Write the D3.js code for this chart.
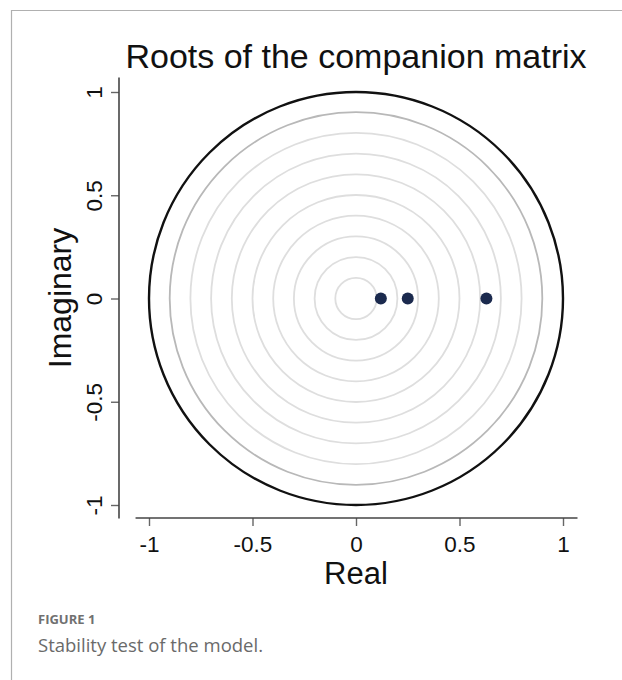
<!DOCTYPE html>
<html>
<head>
<meta charset="utf-8">
<script src="https://cdn.jsdelivr.net/npm/d3@7"></script>
<style>
  html, body { margin: 0; padding: 0; background: #fff; }
  svg { display: block; }
</style>
</head>
<body>
<script>
// Data
const rootsReal = [0.12, 0.25, 0.63];
const rootsImag = [0, 0, 0];
const gridRadii = [0.1, 0.2, 0.3, 0.4, 0.5, 0.6, 0.7, 0.8, 0.9];
const unitRadius = [1];
const xTicks = [-1, -0.5, 0, 0.5, 1];
const yTicks = [-1, -0.5, 0, 0.5, 1];
const xTickLabels = ["-1", "-0.5", "0", "0.5", "1"];
const yTickLabels = ["-1", "-0.5", "0", "0.5", "1"];
const title = "Roots of the companion matrix";
const xLabel = "Real";
const yLabel = "Imaginary";
const figLabel = "FIGURE 1";
const caption = "Stability test of the model.";

const W = 622, H = 680;
const svg = d3.select("body").append("svg").attr("width", W).attr("height", H);

// frame lines
svg.append("line").attr("x1", 11).attr("x2", W).attr("y1", 10.5).attr("y2", 10.5)
  .attr("stroke", "#b0b0b0").attr("stroke-width", 1.2);
svg.append("line").attr("x1", 11.5).attr("x2", 11.5).attr("y1", 10).attr("y2", H)
  .attr("stroke", "#b0b0b0").attr("stroke-width", 1.2);

const x = d3.scaleLinear().domain([-1, 1]).range([149, 563]);
const y = d3.scaleLinear().domain([-1, 1]).range([505, 92]);

const font = "'Liberation Sans', Arial, sans-serif";

// title
svg.append("text").attr("x", 356).attr("y", 68).attr("text-anchor", "middle")
  .attr("font-family", font).attr("font-size", 34).attr("fill", "#111").text(title);

// grid circles
svg.append("g").selectAll("circle").data(gridRadii).join("circle")
  .attr("cx", x(0)).attr("cy", y(0))
  .attr("r", d => x(d) - x(0))
  .attr("fill", "none")
  .attr("stroke", d => d === 0.9 ? "#b8b8b8" : "#dedede")
  .attr("stroke-width", 1.8);

// unit circle
svg.append("g").selectAll("ellipse").data(unitRadius).join("ellipse")
  .attr("cx", x(0)).attr("cy", y(0))
  .attr("rx", d => x(d) - x(0)).attr("ry", d => y(0) - y(d))
  .attr("fill", "none").attr("stroke", "#111").attr("stroke-width", 2.4);

// roots
svg.append("g").selectAll("circle").data(rootsReal.map((r, i) => [r, rootsImag[i]])).join("circle")
  .attr("cx", d => x(d[0])).attr("cy", d => y(d[1])).attr("r", 6)
  .attr("fill", "#1b2a4e");

// x axis
const xAxis = d3.axisBottom(x).tickValues(xTicks).tickSize(8).tickSizeOuter(0)
  .tickFormat((d, i) => xTickLabels[i]);
const gx = svg.append("g").attr("transform", "translate(0,518)").call(xAxis);
gx.select(".domain").remove();
gx.append("line").attr("x1", x(-1.065)).attr("x2", x(1.07)).attr("y1", 0).attr("y2", 0)
  .attr("stroke", "#444").attr("stroke-width", 1.6);
gx.selectAll(".tick line").attr("stroke", "#666").attr("stroke-width", 1.4);
gx.selectAll(".tick text").attr("font-family", font).attr("font-size", 22.5)
  .attr("fill", "#111").attr("y", 18).attr("dy", "0.71em");

// y axis
const yAxis = d3.axisLeft(y).tickValues(yTicks).tickSize(8).tickSizeOuter(0)
  .tickFormat((d, i) => yTickLabels[i]);
const gy = svg.append("g").attr("transform", "translate(119,0)").call(yAxis);
gy.select(".domain").remove();
gy.append("line").attr("x1", 0).attr("x2", 0).attr("y1", y(1.07)).attr("y2", y(-1.065))
  .attr("stroke", "#444").attr("stroke-width", 1.6);
gy.selectAll(".tick line").attr("stroke", "#666").attr("stroke-width", 1.4);
gy.selectAll(".tick text").attr("font-family", font).attr("font-size", 22.5)
  .attr("fill", "#111")
  .attr("x", null).attr("dy", null)
  .attr("text-anchor", "middle")
  .attr("transform", "translate(-17,0) rotate(-90)");

// axis labels
svg.append("text").attr("x", 356).attr("y", 584).attr("text-anchor", "middle")
  .attr("font-family", font).attr("font-size", 31).attr("fill", "#111").text(xLabel);
svg.append("text").attr("transform", "translate(71,298) rotate(-90)").attr("text-anchor", "middle")
  .attr("font-family", font).attr("font-size", 32).attr("fill", "#111").text(yLabel);

// caption
svg.append("text").attr("x", 38).attr("y", 624)
  .attr("font-family", "'Open Sans', 'Noto Sans', sans-serif").attr("font-size", 13)
  .attr("font-weight", 700).attr("fill", "#707070").text(figLabel);
svg.append("text").attr("x", 38).attr("y", 652)
  .attr("font-family", "'Open Sans', 'Noto Sans', sans-serif").attr("font-size", 18.5)
  .attr("fill", "#6a6a6a").text(caption);
</script>
</body>
</html>
